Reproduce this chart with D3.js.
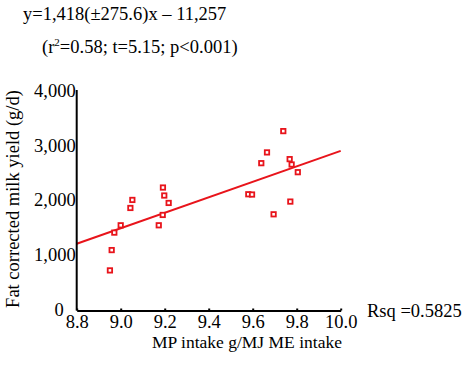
<!DOCTYPE html>
<html><head><meta charset="utf-8">
<script src="https://cdn.jsdelivr.net/npm/d3@7"></script>
<style>body{margin:0;background:#fff}svg{display:block}</style>
</head><body>
<script>
const mpIntake = [8.951,8.959,8.971,9.0,9.044,9.053,9.173,9.191,9.192,9.198,9.218,9.58,9.597,9.639,9.665,9.695,9.739,9.768,9.777,9.771,9.805];
const milkYield = [734,1106,1426,1560,1877,2024,1560,1749,2251,2105,1969,2128,2123,2697,2894,1761,3284,2771,2673,1994,2532];
const xTicks = [8.8,9.0,9.2,9.4,9.6,9.8,10.0];
const yTicks = [0,1000,2000,3000,4000];
const slope = 1418, intercept = -11257;
const eqLine1 = "y=1,418(±275.6)x – 11,257";
const rsqText = "Rsq =0.5825";

const W=474,H=390;
const font="'Liberation Serif','Times New Roman',serif";
const svg=d3.select("body").append("svg").attr("width",W).attr("height",H);
const x=d3.scaleLinear().domain([8.8,10.0]).range([76.7,340.7]);
const y=d3.scaleLinear().domain([0,4000]).range([310.5,92]);

// regression line
const xl=x.domain();
svg.append("line")
  .attr("x1",x(xl[0])).attr("y1",y(slope*xl[0]+intercept))
  .attr("x2",x(xl[1])).attr("y2",y(slope*xl[1]+intercept))
  .attr("stroke","#e8141b").attr("stroke-width",2);

// points
svg.append("g").selectAll("rect").data(mpIntake).join("rect")
  .attr("x",(d)=>x(d)-2.2).attr("y",(d,i)=>y(milkYield[i])-2.2)
  .attr("width",4.4).attr("height",4.4)
  .attr("fill","#fff").attr("stroke","#e8141b").attr("stroke-width",1.8);

// axes
const gx=svg.append("g").attr("transform","translate(0,310.5)")
  .call(d3.axisBottom(x).tickValues(xTicks).tickFormat(d3.format(".1f")).tickSizeInner(-2).tickSizeOuter(0).tickPadding(4));
const gy=svg.append("g").attr("transform","translate(76.7,0)")
  .call(d3.axisLeft(y).tickValues(yTicks).tickFormat(d3.format(",")).tickSize(0).tickPadding(1));
gy.select(".domain").attr("d","M0,90V310.5");
gy.selectAll("text").attr("dy","0.25em").attr("x",d=>d===0?-13:-1);
[gx,gy].forEach(g=>{
  g.select(".domain").attr("stroke","#000").attr("stroke-width",2);
  g.selectAll(".tick line").attr("stroke","#000").attr("stroke-width",2);
  g.selectAll("text").attr("font-family",font).attr("font-size","18.5px").attr("fill","#000");
});

// titles
svg.append("text").attr("x",247).attr("y",348).attr("text-anchor","middle")
  .attr("font-family",font).attr("font-size","17.5px").text("MP intake g/MJ ME intake");
svg.append("text").attr("transform","translate(19,199) rotate(-90)").attr("text-anchor","middle")
  .attr("font-family",font).attr("font-size","18.5px").text("Fat corrected milk yield (g/d)");

// equation
svg.append("text").attr("x",23).attr("y",20).attr("font-family",font).attr("font-size","18.5px").text(eqLine1);
const t2=svg.append("text").attr("x",42).attr("y",53).attr("font-family",font).attr("font-size","18.5px");
t2.append("tspan").text("(r");
t2.append("tspan").attr("font-size","11px").attr("dy","-7").text("2");
t2.append("tspan").attr("dy","7").text("=0.58; t=5.15; p<0.001)");

svg.append("text").attr("x",367).attr("y",317).attr("font-family",font).attr("font-size","18.5px").text(rsqText);
</script>
</body></html>
